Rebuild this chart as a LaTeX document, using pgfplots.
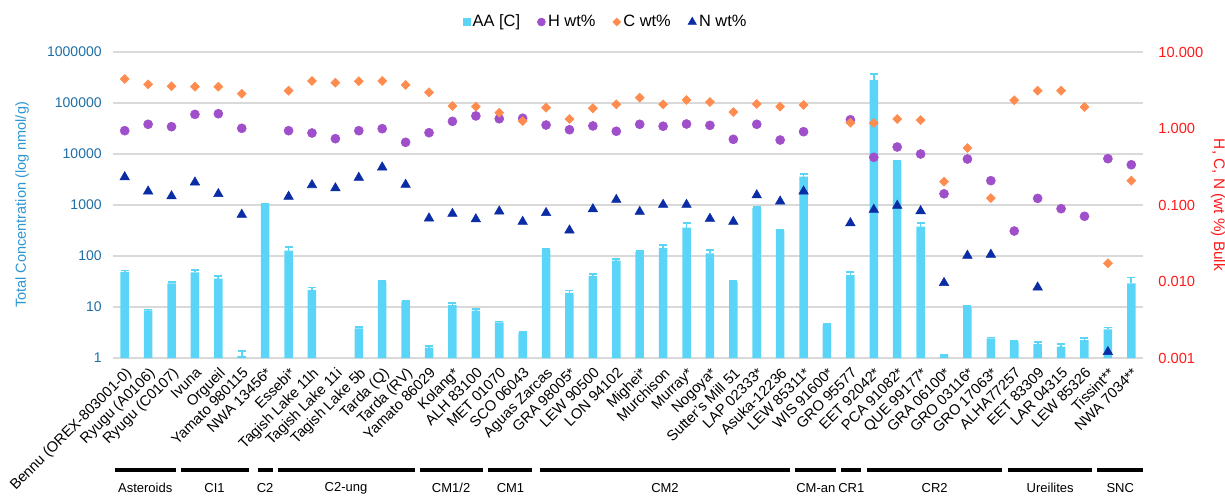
\documentclass[border=0pt]{standalone}
\usepackage{pgfplots}
\pgfplotsset{compat=1.18}
\usepackage{pgfplotstable}
\usepackage{fontspec}
\setmainfont{Liberation Sans}
\definecolor{aacol}{RGB}{91,213,247}
\definecolor{hcol}{RGB}{160,79,203}
\definecolor{ccol}{RGB}{255,140,79}
\definecolor{ncol}{RGB}{10,45,165}
\definecolor{ltick}{RGB}{31,110,165}
\definecolor{llab}{RGB}{45,150,210}
\definecolor{rred}{RGB}{255,25,25}
\definecolor{gridc}{RGB}{217,217,217}

\pgfplotstableread{
x aa aae h c n
0 49 3 0.936 4.44 0.241
1 8.6 0.3 1.135 3.78 0.157
2 29 2 1.056 3.56 0.136
3 48 5 1.53 3.52 0.206
4 36 5 1.56 3.52 0.145
5 1.1 0.25 1.006 2.85 0.078
6 1050 0 nan nan nan
7 127 25 0.936 3.12 0.134
8 21.5 2.5 0.873 4.18 0.19
9 nan 0 0.736 3.97 0.173
10 3.8 0.2 0.936 4.14 0.237
11 31 1 0.994 4.18 0.324
12 12.7 0.5 0.66 3.71 0.192
13 1.6 0.1 0.881 2.97 0.0697
14 10.9 0.9 1.24 1.97 0.080
15 8.5 0.7 1.46 1.93 0.068
16 5.0 0.2 1.34 1.61 0.086
17 3.1 0.1 1.36 1.25 0.063
18 131 5 1.11 1.87 0.082
19 19 2 0.964 1.33 0.0486
20 40.5 4 1.08 1.84 0.092
21 81 6 0.92 2.07 0.122
22 120 6 1.135 2.53 0.085
23 145 18 1.07 2.07 0.105
24 360 90 1.145 2.36 0.105
25 113 18 1.10 2.22 0.069
26 31 1 0.722 1.64 0.063
27 870 40 1.135 2.09 0.140
28 313 10 0.707 1.93 0.116
29 3600 500 0.908 2.03 0.157
30 4.4 0.3 nan nan nan
31 42 7 1.30 1.19 0.0605
32 280000 90000 0.42 1.18 0.0905
33 6900 300 0.573 1.33 0.102
34 376 74 0.464 1.29 0.0868
35 1.11 0.03 0.14 0.202 0.010
36 9.9 0.5 0.399 0.556 0.0227
37 2.43 0.1 0.208 0.123 0.0234
38 2.09 0.05 0.0457 2.34 nan
39 1.88 0.15 0.122 3.12 0.00873
40 1.67 0.2 0.0895 3.12 nan
41 2.25 0.2 0.0712 1.91 nan
42 3.65 0.3 0.403 0.0173 0.00125
43 29 9 0.336 0.208 nan
}\data

\begin{document}
\begin{tikzpicture}
\useasboundingbox (-84.75pt,-103.5pt) rectangle (834pt,268.5pt);
\begin{axis}[
  at={(0pt,0pt)}, anchor=south west, scale only axis,
  width=772.5pt, height=229.5pt,
  xmin=-0.5, xmax=43.5, ymode=log, ymin=1, ymax=1000000,
  axis line style={draw=none}, tick style={draw=none},
  ymajorgrids, grid style={draw=gridc, line width=1.2pt},
  ytick={1,10,100,1000,10000,100000,1000000},
  yticklabels={1,10,100,1000,10000,100000,1000000},
  yticklabel style={text=ltick, font=\fontsize{10.5}{12}\selectfont, xshift=-5pt},
  xtick={0,...,43},
  xticklabels={Bennu (OREX-803001-0),Ryugu (A0106),Ryugu (C0107),Ivuna,Orgueil,Yamato 980115,NWA 13456*,Essebi*,Tagish Lake 11h,Tagish Lake 11i,Tagish Lake 5b,Tarda (Q),Tarda (RV),Yamato 86029,Kolang*,ALH 83100,MET 01070,SCO 06043,Aguas Zarcas,GRA 98005*,LEW 90500,LON 94102,Mighei*,Murchison,Murray*,Nogoya*,Sutter's Mill 51,LAP 02333*,Asuka-12236,LEW 85311*,WIS 91600*,GRO 95577,EET 92042*,PCA 91082*,QUE 99177*,GRA 06100*,GRO 03116*,GRO 17063*,ALHA77257,EET 83309,LAR 04315,LEW 85326,Tissint**,NWA 7034**},
  xticklabel style={rotate=45, anchor=north east, font=\fontsize{11}{13}\selectfont, inner sep=1.5pt},
  ylabel={Total Concentration (log nmol/g)},
  ylabel style={at={(axis description cs:-0.0883,0.5)}, anchor=center, text=llab, font=\fontsize{10.9}{13}\selectfont},
  clip=false,
  ybar, bar width=6.4pt,
]
\addplot[fill=aacol, draw=none,
  error bars/.cd, y dir=plus, y explicit, error mark=-,
  error bar style={draw=aacol, line width=1.3pt},
  error mark options={rotate=90, draw=aacol, line width=1.3pt, mark size=3pt}]
  table[x=x, y=aa, y error=aae]{\data};

\begin{scope}[line width=3pt]
\draw ([yshift=-84pt]axis cs:-0.43,1) -- ([yshift=-84pt]axis cs:2.18,1);
\draw ([yshift=-84pt]axis cs:2.39,1) -- ([yshift=-84pt]axis cs:5.29,1);
\draw ([yshift=-84pt]axis cs:5.68,1) -- ([yshift=-84pt]axis cs:6.32,1);
\draw ([yshift=-84pt]axis cs:6.53,1) -- ([yshift=-84pt]axis cs:12.38,1);
\draw ([yshift=-84pt]axis cs:12.60,1) -- ([yshift=-84pt]axis cs:15.29,1);
\draw ([yshift=-84pt]axis cs:15.54,1) -- ([yshift=-84pt]axis cs:17.42,1);
\draw ([yshift=-84pt]axis cs:17.72,1) -- ([yshift=-84pt]axis cs:28.44,1);
\draw ([yshift=-84pt]axis cs:28.65,1) -- ([yshift=-84pt]axis cs:30.40,1);
\draw ([yshift=-84pt]axis cs:30.61,1) -- ([yshift=-84pt]axis cs:31.47,1);
\draw ([yshift=-84pt]axis cs:31.72,1) -- ([yshift=-84pt]axis cs:37.49,1);
\draw ([yshift=-84pt]axis cs:37.74,1) -- ([yshift=-84pt]axis cs:41.33,1);
\draw ([yshift=-84pt]axis cs:41.55,1) -- ([yshift=-84pt]axis cs:43.51,1);
\end{scope}
\begin{scope}[every node/.style={font=\fontsize{9.75}{11}\selectfont, inner sep=0pt}]
\node at ([yshift=-97.5pt]axis cs:0.875,1) {Asteroids};
\node at ([yshift=-97.5pt]axis cs:3.84,1) {CI1};
\node at ([yshift=-97.5pt]axis cs:6.0,1) {C2};
\node at ([yshift=-97.5pt]axis cs:9.455,1) {C2-ung};
\node at ([yshift=-97.5pt]axis cs:13.945,1) {CM1/2};
\node at ([yshift=-97.5pt]axis cs:16.48,1) {CM1};
\node at ([yshift=-97.5pt]axis cs:23.08,1) {CM2};
\node at ([yshift=-97.5pt]axis cs:29.525,1) {CM-an};
\node at ([yshift=-97.5pt]axis cs:31.04,1) {CR1};
\node at ([yshift=-97.5pt]axis cs:34.6,1) {CR2};
\node at ([yshift=-97.5pt]axis cs:39.535,1) {Ureilites};
\node at ([yshift=-97.5pt]axis cs:42.53,1) {SNC};
\end{scope}
\end{axis}

\begin{axis}[
  at={(0pt,0pt)}, anchor=south west, scale only axis,
  width=772.5pt, height=229.5pt,
  xmin=-0.5, xmax=43.5, ymode=log, ymin=0.001, ymax=10,
  axis line style={draw=none}, tick style={draw=none},
  xtick=\empty,
  ytick={0.001,0.01,0.1,1,10},
  yticklabels={0.001,0.010,0.100,1.000,10.000},
  yticklabel pos=right,
  yticklabel style={text=rred, font=\fontsize{11}{13}\selectfont, xshift=8pt},
  ylabel={H, C, N (wt \%) Bulk},
  ylabel style={at={(axis description cs:1.0728,0.5)}, anchor=center, rotate=180, text=rred, font=\fontsize{11.5}{13}\selectfont},
  clip=false,
  legend image code/.code={\draw[#1] plot coordinates {(0pt,0pt)};},
  legend style={draw=none, fill=none, at={(0.4786,1.098)}, anchor=center,
    legend columns=4, font=\fontsize{12.3}{14}\selectfont,
    /tikz/every even column/.append style={column sep=11pt}},
]
\addplot[only marks, mark=*, mark size=3.4pt, color=hcol, forget plot] table[x=x, y=h]{\data};
\addplot[only marks, mark=square*, mark size=2.4pt, mark options={rotate=45}, color=ccol, forget plot] table[x=x, y=c]{\data};
\addplot[only marks, mark=triangle*, mark size=4.1pt, mark options={yshift=-1pt}, color=ncol, forget plot] table[x=x, y=n]{\data};

\addlegendimage{only marks, mark=square*, mark size=2.7pt, color=aacol}
\addlegendentry{AA [C]}
\addlegendimage{only marks, mark=*, mark size=3pt, color=hcol}
\addlegendentry{H wt\%}
\addlegendimage{only marks, mark=square*, mark size=2.1pt, mark options={rotate=45}, color=ccol}
\addlegendentry{C wt\%}
\addlegendimage{only marks, mark=triangle*, mark size=3.6pt, color=ncol}
\addlegendentry{N wt\%}
\end{axis}
\end{tikzpicture}
\end{document}
